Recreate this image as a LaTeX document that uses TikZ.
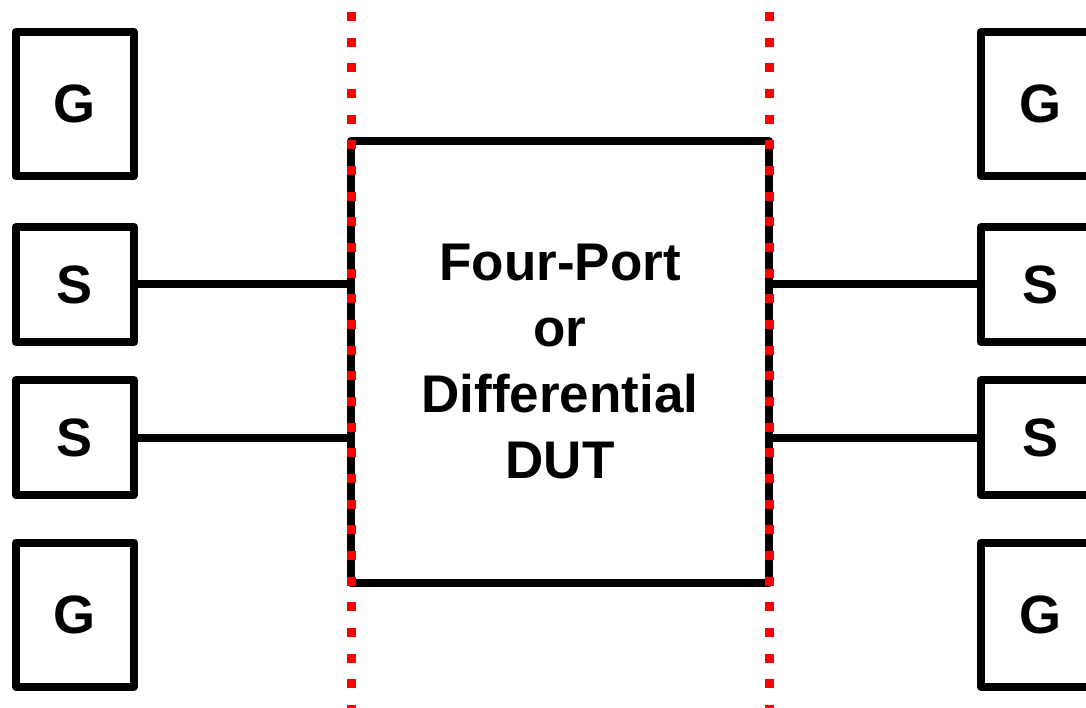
\documentclass[tikz,border=0pt]{standalone}
\usepackage{fontspec}
\setmainfont{Liberation Sans}
\begin{document}
\begin{tikzpicture}[x=1pt,y=-1pt,
  pad/.style={draw, line width=8pt, line join=round, inner sep=0pt,
    minimum width=118pt, font=\fontsize{54}{60}\selectfont\bfseries},
  gpad/.style={pad, minimum height=144pt},
  spad/.style={pad, minimum height=115pt},
  dutbox/.style={draw, line width=8pt, line join=round, inner sep=0pt,
    minimum width=418pt, minimum height=442pt, align=center,
    font=\fontsize{53}{66}\selectfont\bfseries},
  wire/.style={line width=8pt},
  refplane/.style={draw=red, line width=9pt,
    dash pattern=on 9pt off 16.67pt, dash phase=13.67pt}
]
\useasboundingbox (0,0) rectangle (1086,708);
\clip (0,0) rectangle (1086,708);

% probe pads, left side
\node[gpad] (lg1) at (75,104)    {G};
\node[spad] (ls1) at (75,284.5)  {S};
\node[spad] (ls2) at (75,437.5)  {S};
\node[gpad] (lg2) at (75,614.5)  {G};

% probe pads, right side
\node[gpad] (rg1) at (1040,104)   {G};
\node[spad] (rs1) at (1040,284.5) {S};
\node[spad] (rs2) at (1040,437.5) {S};
\node[gpad] (rg2) at (1040,614.5) {G};

% device under test
\node[dutbox] (dut) at (560,362) {Four-Port\\or\\Differential\\DUT};

% signal lines
\draw[wire] (ls1.east) -- (ls1.east -| dut.west);
\draw[wire] (ls2.east) -- (ls2.east -| dut.west);
\draw[wire] (rs1.west) -- (rs1.west -| dut.east);
\draw[wire] (rs2.west) -- (rs2.west -| dut.east);

% reference planes
\coordinate (pl1) at (351,0);
\coordinate (pl2) at (351,708);
\coordinate (pr1) at (769,0);
\coordinate (pr2) at (769,708);
\draw[refplane] (pl1) -- (pl2);
\draw[refplane] (pr1) -- (pr2);
\end{tikzpicture}
\end{document}
